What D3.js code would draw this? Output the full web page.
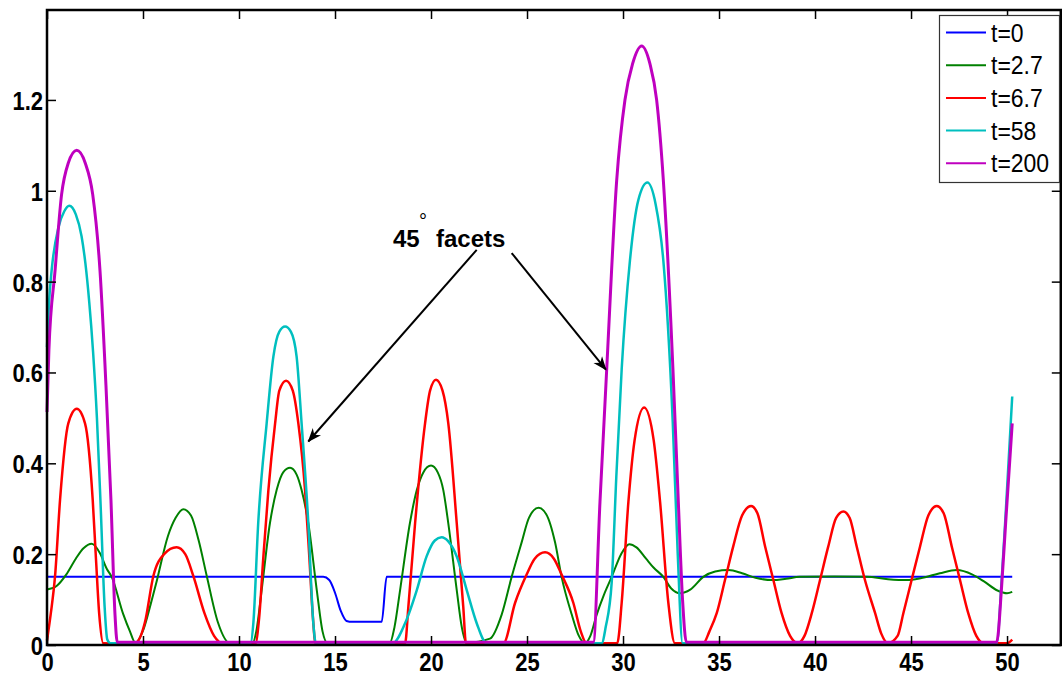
<!DOCTYPE html>
<html><head><meta charset="utf-8">
<script src="https://cdn.jsdelivr.net/npm/d3@7"></script>
<style>body{margin:0;background:#fff}svg{display:block}</style>
</head><body><svg id="c" width="1062" height="679"></svg>
<script>
// ---- data ----
const xTicks = [0,5,10,15,20,25,30,35,40,45,50];
const yTicks = [0,0.2,0.4,0.6,0.8,1,1.2];
const seriesNames = ["t=0","t=2.7","t=6.7","t=58","t=200"];
const seriesColors = ["#0000ff","#008000","#ff0000","#00bfbf","#bf00bf"];
const seriesWidths = [2,2,2.5,2.5,3];

const t0 = [[0,0.15],[14.39,0.15],[14.7,0.143],[15.0,0.115],[15.3,0.075],[15.6,0.053],[15.9,0.051],[17.43,0.051],[17.69,0.15],[50.27,0.15]];

const t2_7 = [[0,0.122],[0.5,0.13],[1.0,0.155],[1.5,0.19],[1.9,0.213],[2.33,0.223],[2.76,0.202],[3.11,0.168],[3.37,0.15],[3.97,0.068],[4.32,0.03],[4.6,0.005],[5.02,0.034],[5.4,0.09],[5.71,0.14],[6.3,0.24],[6.7,0.28],[7.1,0.299],[7.5,0.285],[7.9,0.23],[8.32,0.152],[8.9,0.05],[9.53,0.004],[10.7,0.004],[10.9,0.03],[11.18,0.121],[11.61,0.268],[11.96,0.341],[12.3,0.38],[12.66,0.39],[13.0,0.375],[13.26,0.341],[13.61,0.268],[14.05,0.121],[14.35,0.03],[14.6,0.005],[17.86,0.005],[18.1,0.04],[18.39,0.121],[18.9,0.268],[19.26,0.341],[19.6,0.38],[20.0,0.395],[20.35,0.38],[20.64,0.341],[20.9,0.268],[21.34,0.121],[21.6,0.04],[21.85,0.005],[23.07,0.014],[23.68,0.067],[24.2,0.15],[24.72,0.226],[25.1,0.28],[25.6,0.302],[26.0,0.288],[26.46,0.226],[26.8,0.15],[27.33,0.067],[27.7,0.02],[28.02,0.004],[28.3,0.02],[28.63,0.067],[29.0,0.11],[29.41,0.15],[29.9,0.2],[30.33,0.222],[30.7,0.215],[31.2,0.19],[31.6,0.17],[32.1,0.15],[32.5,0.125],[32.97,0.114],[33.5,0.122],[34.18,0.15],[34.8,0.162],[35.5,0.165],[36.2,0.158],[36.9,0.148],[37.8,0.143],[38.5,0.146],[39.2,0.15],[41.0,0.151],[42.7,0.15],[43.8,0.145],[44.77,0.143],[45.5,0.147],[46.5,0.158],[47.38,0.165],[48.2,0.155],[48.8,0.14],[49.5,0.12],[50.0,0.114],[50.27,0.117]];

const t6_7 = [[0,0.01],[0.2,0.07],[0.42,0.152],[0.68,0.32],[1.11,0.488],[1.55,0.52],[1.98,0.488],[2.38,0.32],[2.55,0.19],[2.72,0.068],[2.93,0.004],[4.4,0.003],[4.67,0.006],[5.1,0.05],[5.54,0.152],[6.1,0.2],[6.75,0.215],[7.2,0.2],[7.62,0.152],[8.2,0.07],[8.7,0.02],[9.2,0.003],[10.85,0.003],[11.05,0.06],[11.27,0.195],[11.53,0.341],[11.88,0.488],[12.1,0.56],[12.45,0.582],[12.8,0.56],[13.09,0.488],[13.44,0.341],[13.66,0.195],[13.85,0.06],[13.98,0.004],[18.65,0.004],[18.82,0.084],[19.17,0.268],[19.69,0.488],[19.95,0.56],[20.26,0.584],[20.6,0.56],[20.9,0.488],[21.34,0.268],[21.68,0.084],[21.82,0.004],[23.77,0.004],[24.38,0.093],[24.98,0.155],[25.4,0.19],[25.94,0.204],[26.4,0.19],[26.8,0.155],[27.41,0.093],[27.8,0.03],[28.1,0.004],[29.7,0.004],[29.93,0.093],[30.28,0.315],[30.6,0.45],[31.1,0.523],[31.6,0.45],[31.93,0.315],[32.36,0.093],[32.7,0.004],[34.18,0.004],[34.5,0.03],[34.88,0.07],[35.31,0.143],[35.74,0.217],[36.2,0.285],[36.67,0.306],[37.0,0.29],[37.4,0.217],[37.83,0.143],[38.26,0.07],[38.7,0.02],[39.1,0.004],[39.45,0.02],[39.83,0.07],[40.26,0.143],[40.69,0.217],[41.1,0.28],[41.48,0.294],[41.8,0.28],[42.17,0.217],[42.6,0.143],[43.13,0.07],[43.45,0.025],[43.8,0.004],[44.3,0.02],[44.6,0.07],[45.03,0.143],[45.47,0.217],[45.9,0.285],[46.34,0.306],[46.7,0.29],[47.12,0.217],[47.55,0.143],[47.98,0.07],[48.4,0.02],[48.77,0.004],[50.0,0.004],[50.27,0.012]];

const t58 = [[0,0.656],[0.1,0.75],[0.24,0.824],[0.6,0.92],[0.9,0.955],[1.16,0.967],[1.5,0.948],[1.8,0.9],[2.0,0.84],[2.2,0.755],[2.4,0.645],[2.6,0.5],[2.8,0.3],[3.0,0.085],[3.14,0.012],[3.3,0.004],[10.6,0.004],[10.75,0.05],[11.0,0.268],[11.44,0.488],[11.79,0.635],[12.1,0.69],[12.4,0.701],[12.7,0.69],[13.0,0.635],[13.26,0.488],[13.61,0.268],[13.87,0.048],[14.0,0.004],[18.0,0.004],[18.65,0.048],[19.26,0.121],[19.77,0.195],[20.2,0.23],[20.55,0.237],[20.9,0.228],[21.34,0.195],[21.86,0.121],[22.38,0.048],[22.9,0.004],[28.89,0.004],[29.1,0.04],[29.41,0.138],[29.65,0.37],[29.93,0.607],[30.36,0.846],[30.8,0.98],[31.27,1.018],[31.7,0.97],[32.1,0.846],[32.59,0.49],[32.85,0.2],[33.1,0.004],[49.46,0.004],[49.72,0.143],[49.93,0.29],[50.27,0.547]];

const t200 = [[0,0.513],[0.1,0.65],[0.42,0.824],[0.76,0.992],[1.1,1.06],[1.55,1.089],[2.0,1.06],[2.38,0.992],[2.76,0.824],[3.07,0.572],[3.33,0.32],[3.54,0.068],[3.66,0.006],[28.45,0.006],[28.8,0.315],[29.15,0.607],[29.67,1.023],[30.1,1.2],[30.5,1.28],[30.97,1.319],[31.4,1.28],[31.75,1.2],[32.1,1.023],[32.6,0.607],[32.88,0.315],[33.1,0.1],[33.3,0.006],[49.46,0.006],[49.72,0.13],[49.93,0.27],[50.27,0.488]];

const annotText = "45";
const annotText2 = "facets";
const annotAnchor = [18.02, 0.876];
const arrowStarts = [[22.38, 0.870],[24.2, 0.863]];
const arrowTips = [[13.61, 0.448],[29.11, 0.606]];

// ---- drawing ----
const series = [t0, t2_7, t6_7, t58, t200];
const svg = d3.select("#c");
const W = 1062, H = 679;
const x = d3.scaleLinear().domain([0, 52.8]).range([47, 1060.8]);
const y = d3.scaleLinear().domain([0, 1.398]).range([645, 10]);
const FONT = "'Liberation Sans', Arial, Helvetica, sans-serif";

svg.append("rect").attr("width", W).attr("height", H).attr("fill", "#fff");

const line = d3.line().x(d => x(d[0])).y(d => y(d[1])).curve(d3.curveMonotoneX);
series.forEach((s, i) => {
  svg.append("path").datum(s).attr("d", line)
    .attr("fill", "none").attr("stroke", seriesColors[i])
    .attr("stroke-width", seriesWidths[i]).attr("stroke-linejoin", "round");
});

// axes
function styleAxis(g, labels) {
  g.select(".domain").remove();
  g.selectAll(".tick line").attr("stroke", "#000").attr("stroke-width", 1.5);
  g.selectAll(".tick text").attr("fill", "#000")
    .style("font-family", FONT).style("font-size", "22px").style("font-weight", "bold")
    .attr("transform", "scale(1,1.2)");
  if (!labels) g.selectAll(".tick text").remove();
}
svg.append("g").attr("transform", `translate(0,${y(0)})`)
  .call(d3.axisBottom(x).tickValues(xTicks).tickSizeInner(-9).tickSizeOuter(0).tickPadding(6).tickFormat(d3.format("")))
  .call(g => styleAxis(g, true));
svg.append("g").attr("transform", `translate(${x(0)},0)`)
  .call(d3.axisLeft(y).tickValues(yTicks).tickSizeInner(-9).tickSizeOuter(0).tickPadding(4).tickFormat(d3.format("")))
  .call(g => { styleAxis(g, true); g.selectAll(".tick text").attr("dy", "0.36em"); });
svg.append("g").attr("transform", `translate(0,${y.range()[1]})`)
  .call(d3.axisTop(x).tickValues(xTicks).tickSizeInner(-9).tickSizeOuter(0))
  .call(g => styleAxis(g, false));
svg.append("g").attr("transform", `translate(${x.range()[1]},0)`)
  .call(d3.axisRight(y).tickValues(yTicks).tickSizeInner(-9).tickSizeOuter(0))
  .call(g => styleAxis(g, false));

svg.append("rect")
  .attr("x", x.range()[0]).attr("y", y.range()[1])
  .attr("width", x.range()[1] - x.range()[0]).attr("height", y.range()[0] - y.range()[1])
  .attr("fill", "none").attr("stroke", "#000").attr("stroke-width", 2.5);

// legend
const lg = svg.append("g");
lg.append("rect").attr("x", 939.5).attr("y", 15.5).attr("width", 120).attr("height", 167)
  .attr("fill", "#fff").attr("stroke", "#333").attr("stroke-width", 1.2);
seriesNames.forEach((n, i) => {
  const yy = 32.5 + i * 32.7;
  lg.append("line").attr("x1", 946).attr("x2", 986).attr("y1", yy).attr("y2", yy)
    .attr("stroke", seriesColors[i]).attr("stroke-width", 2);
  lg.append("g").attr("transform", `translate(991,${yy}) scale(1,1.1)`)
    .append("text").attr("dy", "0.36em")
    .style("font-family", FONT).style("font-size", "23px").text(n);
});

// annotation
const defs = svg.append("defs");
defs.append("marker").attr("id", "ah").attr("markerUnits", "userSpaceOnUse")
  .attr("viewBox", "-14 -6 16 12").attr("refX", 0).attr("refY", 0)
  .attr("markerWidth", 16).attr("markerHeight", 12).attr("orient", "auto")
  .append("path").attr("d", "M1,0 L-13,-5.5 L-9,0 L-13,5.5 Z").attr("fill", "#000");
arrowStarts.forEach((s, i) => {
  svg.append("line").attr("x1", x(s[0])).attr("y1", y(s[1]))
    .attr("x2", x(arrowTips[i][0])).attr("y2", y(arrowTips[i][1]))
    .attr("stroke", "#000").attr("stroke-width", 2).attr("marker-end", "url(#ah)");
});
const ax = x(annotAnchor[0]), ay = y(annotAnchor[1]);
svg.append("text").attr("x", ax).attr("y", ay)
  .style("font-family", FONT).style("font-size", "24px").style("font-weight", "bold").text(annotText);
svg.append("text").attr("x", ax + 26).attr("y", ay - 19)
  .style("font-family", FONT).style("font-size", "20px").text("°");
svg.append("text").attr("x", ax + 43).attr("y", ay)
  .style("font-family", FONT).style("font-size", "24px").style("font-weight", "bold").text(annotText2);
</script></body></html>
